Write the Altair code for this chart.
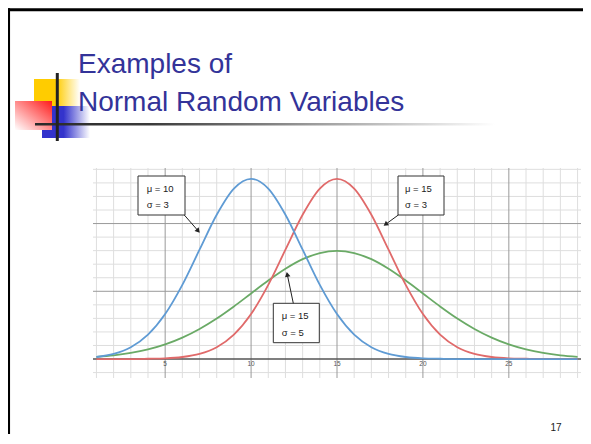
import math
import pandas as pd
import altair as alt

# ---------------- data ----------------
x_values = list(range(1, 30))
mu10_sd3 = [0.0015, 0.0038, 0.0087, 0.0180, 0.0332, 0.0547, 0.0807, 0.1065, 0.1258, 0.1330,
            0.1258, 0.1065, 0.0807, 0.0547, 0.0332, 0.0180, 0.0087, 0.0038, 0.0015, 0.0005,
            0.0002, 0.0000, 0.0000, 0.0000, 0.0000, 0.0000, 0.0000, 0.0000, 0.0000]
mu15_sd3 = [0.0000, 0.0000, 0.0000, 0.0002, 0.0005, 0.0015, 0.0038, 0.0087, 0.0180, 0.0332,
            0.0547, 0.0807, 0.1065, 0.1258, 0.1330, 0.1258, 0.1065, 0.0807, 0.0547, 0.0332,
            0.0180, 0.0087, 0.0038, 0.0015, 0.0005, 0.0002, 0.0000, 0.0000, 0.0000]
mu15_sd5 = [0.0016, 0.0027, 0.0045, 0.0071, 0.0108, 0.0158, 0.0222, 0.0299, 0.0388, 0.0484,
            0.0579, 0.0666, 0.0737, 0.0782, 0.0798, 0.0782, 0.0737, 0.0666, 0.0579, 0.0484,
            0.0388, 0.0299, 0.0222, 0.0158, 0.0108, 0.0071, 0.0045, 0.0027, 0.0016]
series_names = ["mu15_sd5", "mu15_sd3", "mu10_sd3"]
series_colors = ["#6aaa66", "#e06a6a", "#5f9bd4"]

x_tick_labels = [5, 10, 15, 20, 25]
x_grid = list(range(1, 30))
y_grid = [-0.01, 0.0, 0.01, 0.02, 0.03, 0.04, 0.05, 0.06, 0.07, 0.08, 0.09, 0.10,
          0.11, 0.12, 0.13, 0.14]
y_major = [0.05, 0.10]

title_lines = ["Examples of", "Normal Random Variables"]
ann_mu = ["μ = 10", "μ = 15", "μ = 15"]
ann_sigma = ["σ = 3", "σ = 5", "σ = 3"]
page_number = "17"

# ---------------- tables ----------------
curves = pd.DataFrame({
    "x": x_values * 3,
    "y": mu15_sd5 + mu15_sd3 + mu10_sd3,
    "series": [series_names[0]] * 29 + [series_names[1]] * 29 + [series_names[2]] * 29,
})
vminor = pd.DataFrame({"x": [v for v in x_grid if v % 5 != 0]})
vmajor = pd.DataFrame({"x": [v for v in x_grid if v % 5 == 0]})
hminor = pd.DataFrame({"y": [v for v in y_grid if v != 0.0 and v not in y_major]})
hmajor = pd.DataFrame({"y": y_major})
hzero = pd.DataFrame({"y": [0.0]})
ticks = pd.DataFrame({"x": x_tick_labels, "label": [str(v) for v in x_tick_labels]})
one = pd.DataFrame({"k": [0]})

xs = alt.Scale(domain=[0.8, 29.2], nice=False, zero=False)
ys = alt.Scale(domain=[-0.014, 0.141], nice=False, zero=False)

layers = []
layers.append(alt.Chart(vminor).mark_rule(color="#dedede", strokeWidth=1).encode(
    x=alt.X("x:Q", scale=xs, axis=None)))
layers.append(alt.Chart(hminor).mark_rule(color="#dedede", strokeWidth=1).encode(
    y=alt.Y("y:Q", scale=ys, axis=None)))
layers.append(alt.Chart(vmajor).mark_rule(color="#9a9a9a", strokeWidth=1).encode(
    x=alt.X("x:Q", scale=xs, axis=None)))
layers.append(alt.Chart(hmajor).mark_rule(color="#9a9a9a", strokeWidth=1).encode(
    y=alt.Y("y:Q", scale=ys, axis=None)))
layers.append(alt.Chart(hzero).mark_rule(color="#555555", strokeWidth=1.5).encode(
    y=alt.Y("y:Q", scale=ys, axis=None)))
layers.append(alt.Chart(ticks).mark_text(fontSize=6.5, color="#555555", baseline="top",
                                         font="Liberation Sans").encode(
    x=alt.X("x:Q", scale=xs, axis=None), y=alt.value(193), text="label:N"))
layers.append(alt.Chart(curves).mark_line(interpolate="monotone", strokeWidth=1.8).encode(
    x=alt.X("x:Q", scale=xs, axis=None),
    y=alt.Y("y:Q", scale=ys, axis=None),
    color=alt.Color("series:N", scale=alt.Scale(domain=series_names, range=series_colors), legend=None),
    order=alt.value(0)))


def rect(x, x2, y, y2, **kw):
    return alt.Chart(one).mark_rect(**kw).encode(
        x=alt.value(x), x2=alt.value(x2), y=alt.value(y), y2=alt.value(y2))


def text(s, x, y, **kw):
    return alt.Chart(one).mark_text(text=s, **kw).encode(x=alt.value(x), y=alt.value(y))


def grad(stops, x1, y1, x2, y2):
    return alt.LinearGradient(gradient="linear",
                              stops=[alt.GradientStop(color=c, offset=o) for c, o in stops],
                              x1=x1, y1=y1, x2=x2, y2=y2)


# annotation boxes with arrows (pixel layout relative to plot area)
boxes = [
    dict(x=45, x2=92, y=8, y2=47, tx=53.7, ty=(21, 37), start=(91.3, 47), tip=(107, 65)),
    dict(x=180.3, x2=226.3, y=135.3, y2=174.7, tx=188.7, ty=(148, 164.7), start=(200.3, 135.3), tip=(193.7, 103.7)),
    dict(x=305, x2=351, y=8, y2=47, tx=312, ty=(21, 37), start=(305.3, 47), tip=(290.3, 58)),
]
for b, m, s in zip(boxes, ann_mu, ann_sigma):
    layers.append(rect(b["x"], b["x2"], b["y"], b["y2"], fill="white", stroke="#333333", strokeWidth=1))
    layers.append(text(m, b["tx"], b["ty"][0], align="left", baseline="middle", fontSize=9.5,
                       font="Liberation Sans", color="#222222"))
    layers.append(text(s, b["tx"], b["ty"][1], align="left", baseline="middle", fontSize=9.5,
                       font="Liberation Sans", color="#222222"))
    (sx, sy), (tx, ty) = b["start"], b["tip"]
    dx, dy = tx - sx, ty - sy
    L = math.hypot(dx, dy)
    ux, uy = dx / L, dy / L
    layers.append(alt.Chart(one).mark_rule(color="#222222", strokeWidth=1).encode(
        x=alt.value(sx), y=alt.value(sy), x2=alt.value(tx - 2 * ux), y2=alt.value(ty - 2 * uy)))
    ang = math.degrees(math.atan2(dx, -dy)) % 360
    layers.append(alt.Chart(one).mark_point(shape="triangle-up", filled=True, size=30, angle=ang,
                                            color="#222222", opacity=1, strokeWidth=0).encode(
        x=alt.value(tx - 2.8 * ux), y=alt.value(ty - 2.8 * uy)))

# slide decorations: frame drawn as rules (top and left edges visible)
layers.append(alt.Chart(one).mark_rule(color="#000000", strokeWidth=3).encode(
    x=alt.value(-86), x2=alt.value(492), y=alt.value(-158.3), y2=alt.value(-158.3)))
layers.append(alt.Chart(one).mark_rule(color="#000000", strokeWidth=2.5).encode(
    x=alt.value(-84.2), x2=alt.value(-84.2), y=alt.value(-159.8), y2=alt.value(266)))
layers.append(rect(-59, -13, -89, -62, fill=grad([("#ffcc00", 0), ("#ffcc00", 0.48), ("#ffffff", 1)], 0, 0, 1, 0)))
layers.append(rect(-51, -3, -62, -30, fill=grad([("#3333cc", 0), ("#3333cc", 0.45), ("#ffffff", 1)], 0, 0, 1, 0)))
layers.append(rect(-78, -41, -67, -38, fill=grad([("#ff1a1a", 0), ("#ffffff", 1)], 1, 0, 0, 1)))
layers.append(rect(-58, 402, -45, -42.5,
                   fill=grad([("#2a2a2a", 0), ("#3a3a3a", 0.25), ("#9a9a9a", 0.6), ("#ffffff", 1)], 0, 0, 1, 0)))
layers.append(rect(-37.2, -34.2, -95, -27, fill="#222222"))
layers.append(text(title_lines[0], -15, -95.5, align="left", baseline="alphabetic", fontSize=28,
                   font="Liberation Sans", color="#333399"))
layers.append(text(title_lines[1], -15, -57, align="left", baseline="alphabetic", fontSize=28,
                   font="Liberation Sans", color="#333399"))
layers.append(text(page_number, 463, 265, align="center", baseline="bottom", fontSize=10,
                   font="Liberation Sans", color="#222222"))

chart = alt.layer(*layers).properties(
    width=488, height=210,
    padding={"left": 85, "top": 160, "right": 2, "bottom": 56},
    autosize=alt.AutoSizeParams(type="none"),
).configure_view(stroke=None)

chart.save("out.html", embed_options={"renderer": "svg", "actions": False})
